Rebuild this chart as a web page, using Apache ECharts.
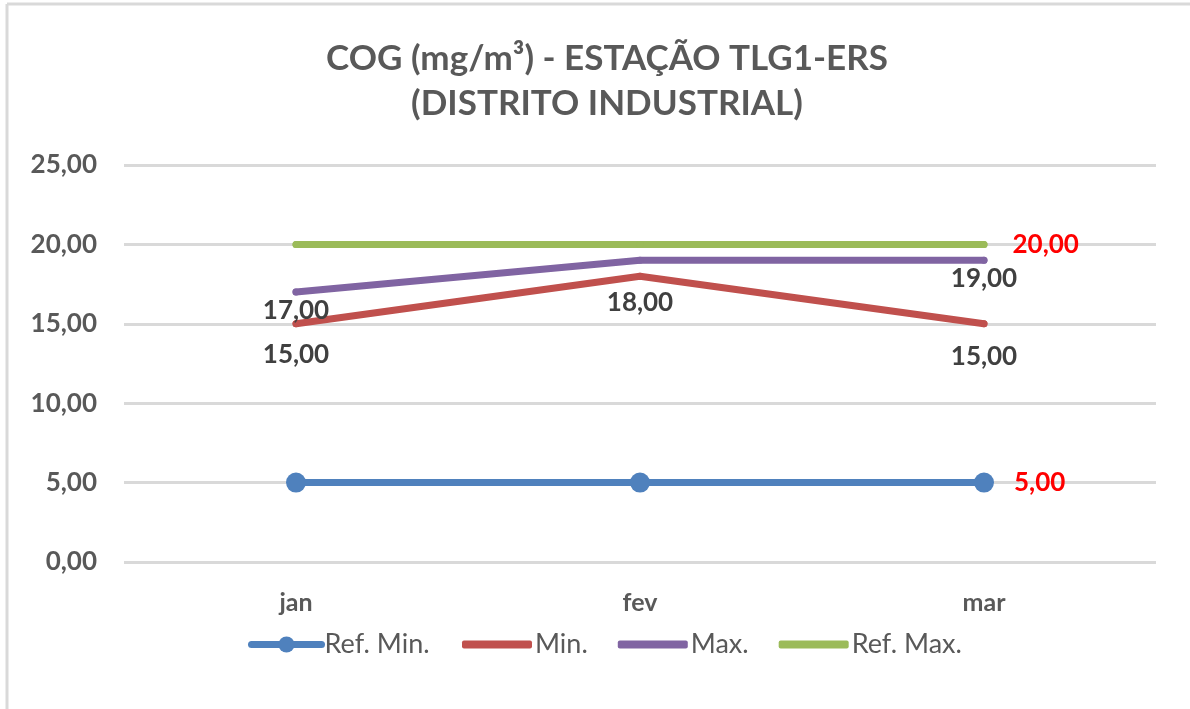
<!DOCTYPE html>
<html>
<head>
<meta charset="utf-8">
<script src="https://cdn.jsdelivr.net/npm/echarts@6/dist/echarts.min.js"></script>
<style>
  html, body { margin: 0; padding: 0; background: #fff; }
  #chart { width: 1190px; height: 709px; }
</style>
</head>
<body>
<div id="chart"></div>
<script>
// dados
const months = ["jan", "fev", "mar"];
const refMin = [5, 5, 5];
const minValues = [15, 18, 15];
const maxValues = [17, 19, 19];
const refMax = [20, 20, 20];
const yTicks = [0, 5, 10, 15, 20, 25];

const FONT = "Lato, 'Open Sans', sans-serif";
const fmt = (v) => v.toFixed(2).replace(".", ",");

const darkLabel = {
  show: true,
  position: "bottom",
  fontFamily: FONT,
  fontWeight: "bold",
  fontSize: 26,
  color: "#404040",
  formatter: (p) => fmt(p.value),
};
const redLabel = (dist) => ({
  show: true,
  position: "right",
  distance: dist,
  fontFamily: FONT,
  fontWeight: "bold",
  fontSize: 26,
  color: "#ff0000",
  formatter: (p) => fmt(p.value),
});

// distancia do rotulo por ponto (0 = sem rotulo)
const minDist = [14, 10, 16];
const maxDist = [2, 0, 2];

const legendText = { fontFamily: FONT, fontSize: 27, color: "#595959", padding: [0, 0, 0, -2] };

const chart = echarts.init(document.getElementById("chart"));
chart.setOption({
  animation: false,
  backgroundColor: "#fff",
  title: {
    text: "COG (mg/m³) - ESTAÇÃO TLG1-ERS\n(DISTRITO INDUSTRIAL)",
    left: 602,
    textAlign: "center",
    top: 31,
    textStyle: {
      fontFamily: FONT,
      fontWeight: "bold",
      fontSize: 35,
      lineHeight: 45,
      color: "#595959",
    },
  },
  graphic: [
    { type: "line", shape: { x1: 7, y1: 4, x2: 7, y2: 709 }, style: { stroke: "#d9d9d9", lineWidth: 3 } },
    { type: "line", shape: { x1: 7, y1: 4, x2: 1190, y2: 4 }, style: { stroke: "#d9d9d9", lineWidth: 3 } },
  ],
  legend: [
    {
      data: ["Ref. Min."],
      left: 243,
      top: 626,
      itemWidth: 70,
      itemHeight: 20,
      itemGap: 30,
      lineStyle: { width: 7, cap: "round" },
      textStyle: legendText,
    },
    {
      data: [
        { name: "Min.", icon: "roundRect" },
        { name: "Max.", icon: "roundRect" },
        { name: "Ref. Max.", icon: "roundRect" },
      ],
      left: 457,
      top: 626,
      itemWidth: 70,
      itemHeight: 8,
      itemGap: 30,
      textStyle: legendText,
    },
  ],
  grid: { left: 124, right: 34, top: 165, bottom: 147 },
  xAxis: {
    type: "category",
    data: months,
    boundaryGap: true,
    axisLine: { show: false },
    axisTick: { show: false },
    axisLabel: {
      margin: 28,
      fontFamily: FONT,
      fontWeight: "bold",
      fontSize: 25,
      color: "#595959",
    },
  },
  yAxis: {
    type: "value",
    min: yTicks[0],
    max: yTicks[yTicks.length - 1],
    interval: 5,
    axisLine: { show: false },
    axisTick: { show: false },
    splitLine: { lineStyle: { color: "#d9d9d9", width: 3 } },
    axisLabel: {
      margin: 27,
      fontFamily: FONT,
      fontWeight: "bold",
      fontSize: 26,
      color: "#595959",
      formatter: (v) => fmt(v),
    },
  },
  series: [
    {
      name: "Ref. Min.",
      type: "line",
      data: refMin.map((v, i) => ({
        value: v,
        label: i === refMin.length - 1 ? redLabel(20) : { show: false },
      })),
      symbol: "circle",
      symbolSize: 20,
      itemStyle: { color: "#4f81bd" },
      lineStyle: { color: "#4f81bd", width: 7, cap: "round" },
      z: 4,
    },
    {
      name: "Min.",
      type: "line",
      data: minValues.map((v, i) => ({
        value: v,
        label: Object.assign({}, darkLabel, { distance: minDist[i] }),
      })),
      symbol: "circle",
      symbolSize: 7,
      itemStyle: { color: "#c0504d" },
      lineStyle: { color: "#c0504d", width: 7, cap: "round" },
      z: 3,
    },
    {
      name: "Max.",
      type: "line",
      data: maxValues.map((v, i) => ({
        value: v,
        label: maxDist[i] ? Object.assign({}, darkLabel, { distance: maxDist[i] }) : { show: false },
      })),
      symbol: "circle",
      symbolSize: 7,
      itemStyle: { color: "#8064a2" },
      lineStyle: { color: "#8064a2", width: 7, cap: "round" },
      z: 3,
    },
    {
      name: "Ref. Max.",
      type: "line",
      data: refMax.map((v, i) => ({
        value: v,
        label: i === refMax.length - 1 ? redLabel(25) : { show: false },
      })),
      symbol: "circle",
      symbolSize: 7,
      itemStyle: { color: "#9bbb59" },
      lineStyle: { color: "#9bbb59", width: 7, cap: "round" },
      z: 3,
    },
  ],
});
</script>
</body>
</html>
